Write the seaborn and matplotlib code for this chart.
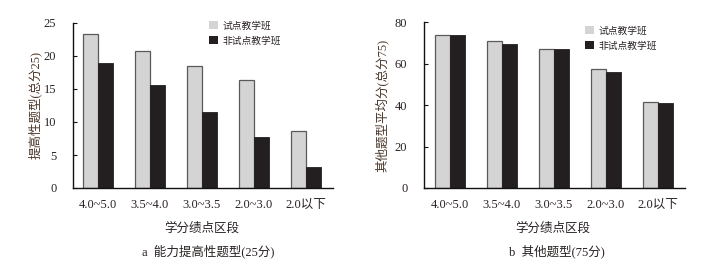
import matplotlib
matplotlib.use("Agg")
import matplotlib.pyplot as plt
import seaborn as sns
import pandas as pd
from matplotlib.patches import Patch

categories = ["4.0~5.0", "3.5~4.0", "3.0~3.5", "2.0~3.0", "2.0以下"]
series_names = ["试点教学班", "非试点教学班"]
a_pilot = [23.3, 20.8, 18.5, 16.3, 8.7]
a_nonpilot = [18.9, 15.6, 11.5, 7.8, 3.2]
b_pilot = [73.7, 71.2, 67.1, 57.6, 41.5]
b_nonpilot = [73.7, 69.7, 67.3, 56.2, 40.9]
a_yticks = [0, 5, 10, 15, 20, 25]
b_yticks = [0, 20, 40, 60, 80]

sns.set_theme(style="white")
plt.rcParams['font.family'] = ['Liberation Serif', 'Noto Sans CJK SC', 'DejaVu Sans']

GRAY = "#d4d4d4"
BLACK = "#231f20"
TXT = "#2a2222"
LBL = "#4a3528"

W, H = 722, 269
fig = plt.figure(figsize=(W / 100, H / 100), dpi=100)

def make_df(p, n):
    return pd.DataFrame({
        "段": categories * 2,
        "分": list(p) + list(n),
        "班": [series_names[0]] * len(categories) + [series_names[1]] * len(categories),
    })

panels = [
    dict(rect=[73 / W, 81 / H, 260 / W, 165 / H], p=a_pilot, n=a_nonpilot, ylim=(0, 25),
         yticks=a_yticks, xlim=(-0.48, 4.52), ylabel="提高性题型(总分25)", ylx=35 / W,
         caption="a  能力提高性题型(25分)", capx=208 / W, xlx=202 / W,
         leg=(209 / W, 1 - 21 / H)),
    dict(rect=[424 / W, 81 / H, 261 / W, 165.6 / H], p=b_pilot, n=b_nonpilot, ylim=(0, 80),
         yticks=b_yticks, xlim=(-0.5, 4.52), ylabel="其他题型平均分(总分75)", ylx=382 / W,
         caption="b  其他题型(75分)", capx=557 / W, xlx=553 / W,
         leg=(585 / W, 1 - 26 / H)),
]

for pn in panels:
    ax = fig.add_axes(pn["rect"])
    df = make_df(pn["p"], pn["n"])
    sns.barplot(data=df, x="段", y="分", hue="班", hue_order=series_names,
                palette=[GRAY, BLACK], width=0.58, ax=ax, saturation=1,
                legend=False)
    for cont, ec, lw in zip(ax.containers, ["#5a5a5a", BLACK], [0.9, 0.6]):
        for bar in cont:
            bar.set_edgecolor(ec)
            bar.set_linewidth(lw)
    ax.set_xlim(*pn["xlim"])
    ax.set_ylim(*pn["ylim"])
    ax.set_yticks(pn["yticks"])
    ax.set_yticklabels([str(v) for v in pn["yticks"]])
    ax.set_xlabel("")
    ax.set_ylabel("")
    for s in ["top", "right"]:
        ax.spines[s].set_visible(False)
    for s in ["left", "bottom"]:
        ax.spines[s].set_color("#111111")
        ax.spines[s].set_linewidth(1.0)
    ax.tick_params(axis="y", direction="in", length=3, width=0.8, color="#111111",
                   labelsize=9, labelcolor=TXT, pad=12, left=True)
    ax.tick_params(axis="x", length=0, labelsize=9, labelcolor=TXT, pad=8)
    ax.grid(False)
    ax.set_facecolor("white")

    handles = [Patch(facecolor=GRAY, edgecolor="none"), Patch(facecolor=BLACK, edgecolor="none")]
    fig.legend(handles, series_names, loc="upper left", bbox_to_anchor=pn["leg"],
               frameon=False, fontsize=7, handlelength=0.9, handleheight=0.9,
               handletextpad=0.5, labelspacing=0.6, borderpad=0, borderaxespad=0,
               labelcolor=TXT)

    fig.text(pn["xlx"], 1 - 229 / H, "学分绩点区段", ha="center", va="center",
             fontsize=9, color=TXT)
    fig.text(pn["ylx"], 1 - 105 / H, pn["ylabel"], rotation=90, ha="center", va="center",
             fontsize=9, color=LBL)
    fig.text(pn["capx"], 1 - 251 / H, pn["caption"], ha="center", va="center",
             fontsize=9, color=TXT)

fig.savefig("out.png", dpi=100, facecolor="white")
